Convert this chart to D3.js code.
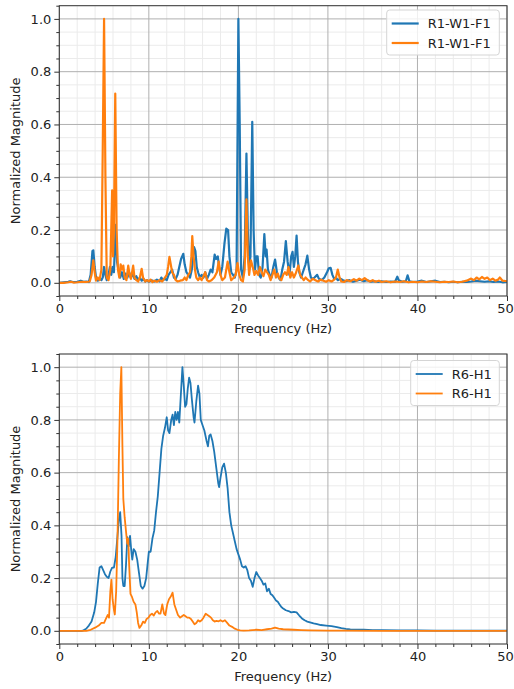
<!DOCTYPE html>
<html>
<head>
<meta charset="utf-8">
<script src="https://cdn.jsdelivr.net/npm/d3@7"></script>
<style>
  body { margin: 0; background: #fff; }
  svg { display: block; font-family: "DejaVu Sans", sans-serif; }
</style>
</head>
<body>
<svg id="chart" width="514" height="689"></svg>
<script>
// values, [frequency Hz, normalized magnitude]
var topBlue = [
  [0,0],[0.5,0.002],[1,0.004],[1.2,0.006],[1.5,0.003],[2,0.004],[2.4,0.008],[2.7,0.004],[3,0.005],[3.3,0.003],
  [3.5,0.03],[3.7,0.12],[3.8,0.123],[3.95,0.06],[4.1,0.02],[4.3,0.008],[4.5,0.015],[4.7,0.01],[4.85,0.02],[5,0.06],
  [5.15,0.03],[5.3,0.01],[5.5,0.03],[5.65,0.06],[5.8,0.03],[5.95,0.06],[6.1,0.04],[6.3,0.22],[6.45,0.08],[6.6,0.05],
  [6.8,0.02],[7,0.04],[7.2,0.015],[7.4,0.035],[7.6,0.02],[7.8,0.04],[8,0.02],[8.2,0.035],[8.4,0.015],[8.6,0.025],
  [8.8,0.01],[9,0.02],[9.2,0.008],[9.4,0.015],[9.6,0.005],[9.8,0.01],[10,0.004],[10.3,0.01],[10.6,0.005],[10.9,0.012],
  [11.2,0.006],[11.4,0.02],[11.6,0.01],[11.8,0.015],[12,0.01],[12.2,0.03],[12.4,0.04],[12.6,0.05],[12.8,0.02],[13,0.015],
  [13.2,0.03],[13.4,0.06],[13.6,0.09],[13.85,0.11],[14,0.07],[14.2,0.04],[14.4,0.03],[14.6,0.02],[14.8,0.05],[15.05,0.135],
  [15.2,0.12],[15.35,0.06],[15.5,0.04],[15.7,0.02],[15.9,0.03],[16.1,0.02],[16.3,0.04],[16.5,0.015],[16.7,0.03],[16.9,0.05],
  [17.1,0.04],[17.35,0.107],[17.5,0.09],[17.7,0.1],[17.85,0.06],[18,0.03],[18.2,0.06],[18.45,0.15],[18.65,0.205],[18.85,0.2],
  [19,0.1],[19.2,0.04],[19.4,0.03],[19.6,0.02],[19.8,0.05],[20,1.0],[20.15,0.6],[20.3,0.05],[20.5,0.02],[20.7,0.1],
  [20.9,0.49],[21.05,0.2],[21.2,0.06],[21.35,0.1],[21.55,0.61],[21.7,0.2],[21.85,0.05],[22,0.1],[22.15,0.1],[22.3,0.03],
  [22.5,0.02],[22.7,0.06],[22.9,0.185],[23.05,0.1],[23.15,0.126],[23.3,0.05],[23.5,0.03],[23.7,0.02],[23.9,0.06],[24.1,0.088],
  [24.3,0.04],[24.5,0.02],[24.7,0.01],[24.9,0.05],[25.1,0.08],[25.3,0.158],[25.5,0.08],[25.7,0.03],[25.9,0.1],[26.05,0.117],
  [26.2,0.06],[26.35,0.1],[26.5,0.179],[26.65,0.08],[26.8,0.04],[27,0.02],[27.2,0.04],[27.5,0.07],[27.7,0.103],[27.9,0.05],
  [28.1,0.02],[28.3,0.015],[28.5,0.02],[28.8,0.03],[29,0.015],[29.3,0.01],[29.6,0.02],[29.9,0.04],[30.1,0.055],[30.3,0.057],
  [30.5,0.03],[30.7,0.015],[30.9,0.02],[31.1,0.01],[31.4,0.015],[31.7,0.01],[32,0.006],[32.4,0.01],[32.8,0.004],[33.2,0.008],
  [33.6,0.012],[34,0.006],[34.4,0.01],[34.8,0.004],[35.2,0.006],[35.6,0.003],[36,0.006],[36.5,0.003],[37,0.005],[37.5,0.004],
  [37.75,0.023],[37.9,0.01],[38.3,0.004],[38.7,0.006],[38.9,0.028],[39.1,0.006],[39.5,0.003],[40,0.005],[40.5,0.008],[41,0.003],
  [41.5,0.006],[42,0.008],[42.5,0.003],[43,0.004],[43.5,0.002],[44,0.004],[44.5,0.002],[45,0.004],[45.5,0.003],[46,0.005],
  [46.5,0.008],[47,0.006],[47.5,0.004],[48,0.006],[48.5,0.003],[49,0.005],[49.5,0.002],[50,0.003]
];
var topOrange = [
  [0,0],[0.5,0],[1,0.002],[1.3,0.004],[1.6,0.001],[2,0.002],[2.5,0.004],[3,0.003],[3.4,0.005],[3.6,0.03],
  [3.8,0.085],[3.95,0.04],[4.1,0.008],[4.3,0.02],[4.5,0.01],[4.7,0.05],[4.85,0.5],[5,1.0],[5.15,0.4],[5.3,0.02],
  [5.5,0.01],[5.7,0.05],[5.9,0.35],[6,0.1],[6.1,0.2],[6.25,0.717],[6.4,0.2],[6.55,0.05],[6.7,0.02],[6.85,0.07],
  [7,0.05],[7.15,0.065],[7.3,0.02],[7.5,0.01],[7.7,0.065],[7.85,0.03],[8,0.015],[8.25,0.065],[8.4,0.02],[8.6,0.01],
  [8.8,0.005],[9,0.02],[9.2,0.053],[9.35,0.02],[9.6,0.005],[9.8,0.01],[10,0.005],[10.2,0.012],[10.4,0.003],[10.6,0.008],
  [10.9,0.004],[11.2,0.01],[11.5,0.005],[11.8,0.02],[12,0.03],[12.15,0.06],[12.3,0.098],[12.45,0.07],[12.6,0.04],[12.8,0.03],
  [13,0.01],[13.2,0.005],[13.5,0.008],[13.8,0.01],[14,0.02],[14.2,0.01],[14.4,0.03],[14.6,0.04],[14.75,0.1],[14.85,0.177],
  [15,0.1],[15.15,0.05],[15.3,0.02],[15.5,0.01],[15.7,0.02],[15.9,0.01],[16.1,0.025],[16.3,0.04],[16.5,0.01],[16.7,0.005],
  [17,0.01],[17.3,0.02],[17.6,0.04],[17.8,0.08],[18,0.03],[18.2,0.01],[18.5,0.02],[18.8,0.08],[19,0.04],[19.2,0.01],
  [19.5,0.02],[19.7,0.03],[19.9,0.075],[20.1,0.03],[20.3,0.01],[20.5,0.005],[20.7,0.05],[20.9,0.316],[21.05,0.1],[21.2,0.03],
  [21.4,0.085],[21.6,0.06],[21.8,0.03],[22,0.045],[22.2,0.03],[22.4,0.06],[22.6,0.04],[22.8,0.025],[23,0.05],[23.2,0.04],
  [23.4,0.03],[23.6,0.01],[23.8,0.03],[24,0.05],[24.2,0.02],[24.4,0.035],[24.6,0.015],[24.8,0.01],[25,0.03],[25.2,0.04],
  [25.4,0.03],[25.6,0.06],[25.8,0.02],[26,0.04],[26.2,0.02],[26.4,0.035],[26.7,0.065],[26.9,0.03],[27.1,0.02],[27.3,0.01],
  [27.5,0.02],[27.8,0.01],[28,0.005],[28.3,0.015],[28.6,0.01],[28.9,0.005],[29.2,0.012],[29.5,0.008],[29.8,0.004],[30.1,0.01],
  [30.4,0.005],[30.7,0.012],[30.9,0.02],[31.1,0.05],[31.3,0.02],[31.5,0.005],[31.8,0.003],[32.1,0.01],[32.5,0.006],[32.9,0.014],
  [33.2,0.008],[33.5,0.016],[33.8,0.01],[34.1,0.018],[34.4,0.01],[34.7,0.005],[35,0.01],[35.3,0.004],[35.7,0.008],[36,0.003],
  [36.5,0.006],[37,0.002],[37.5,0.005],[38,0.003],[38.5,0.006],[39,0.002],[39.5,0.004],[40,0.002],[40.5,0.005],[41,0.003],
  [41.5,0.006],[42,0.004],[42.5,0.002],[43,0.004],[43.5,0.003],[44,0.005],[44.5,0.002],[45,0.004],[45.5,0.008],[46,0.016],
  [46.3,0.01],[46.6,0.02],[46.9,0.013],[47.2,0.022],[47.5,0.015],[47.8,0.02],[48.1,0.01],[48.4,0.016],[48.7,0.008],[49,0.012],
  [49.2,0.02],[49.5,0.008],[50,0.006]
];
var bottomBlue = [
  [0,0],[2.5,0],[2.7,0.002],[3,0.008],[3.3,0.02],[3.6,0.035],[3.9,0.07],[4.1,0.11],[4.3,0.18],[4.5,0.24],
  [4.7,0.245],[4.9,0.23],[5.1,0.215],[5.3,0.205],[5.5,0.2],[5.7,0.225],[5.9,0.24],[6.1,0.24],[6.3,0.28],[6.5,0.36],
  [6.65,0.42],[6.8,0.45],[6.95,0.36],[7.05,0.2],[7.15,0.17],[7.3,0.17],[7.45,0.25],[7.6,0.355],[7.75,0.32],[7.9,0.36],
  [8.05,0.3],[8.15,0.27],[8.3,0.31],[8.5,0.3],[8.7,0.27],[8.9,0.22],[9.1,0.17],[9.3,0.16],[9.5,0.17],[9.7,0.2],
  [9.85,0.25],[10,0.3],[10.2,0.3],[10.4,0.35],[10.6,0.38],[10.8,0.45],[11,0.51],[11.2,0.6],[11.4,0.69],[11.6,0.74],
  [11.8,0.77],[12,0.81],[12.15,0.76],[12.3,0.75],[12.5,0.8],[12.65,0.82],[12.8,0.78],[12.95,0.83],[13.1,0.8],[13.25,0.83],
  [13.4,0.79],[13.55,0.88],[13.75,1.0],[13.9,0.93],[14.05,0.85],[14.2,0.86],[14.35,0.92],[14.5,0.96],[14.65,0.94],[14.8,0.88],
  [15,0.81],[15.1,0.79],[15.3,0.87],[15.5,0.93],[15.65,0.9],[15.8,0.8],[16,0.78],[16.2,0.76],[16.45,0.72],[16.6,0.7],
  [16.75,0.74],[16.9,0.745],[17.1,0.72],[17.3,0.68],[17.45,0.64],[17.6,0.6],[17.75,0.56],[17.85,0.545],[18,0.58],[18.2,0.62],
  [18.4,0.634],[18.6,0.6],[18.8,0.54],[19,0.45],[19.2,0.4],[19.4,0.37],[19.6,0.34],[19.8,0.31],[20,0.29],[20.2,0.27],
  [20.4,0.245],[20.6,0.24],[20.8,0.245],[21,0.23],[21.2,0.2],[21.4,0.19],[21.6,0.167],[21.8,0.2],[22,0.223],[22.2,0.21],
  [22.4,0.2],[22.6,0.19],[22.8,0.175],[23,0.18],[23.2,0.15],[23.4,0.16],[23.6,0.14],[23.8,0.135],[24,0.125],[24.2,0.115],
  [24.4,0.11],[24.6,0.1],[24.8,0.09],[25,0.085],[25.3,0.078],[25.6,0.075],[25.9,0.07],[26.2,0.072],[26.5,0.07],[26.8,0.058],
  [27.1,0.047],[27.4,0.04],[27.7,0.035],[28,0.032],[28.4,0.028],[28.8,0.025],[29.2,0.022],[29.8,0.02],[30.4,0.018],[31,0.014],
  [31.5,0.01],[32,0.007],[32.5,0.005],[33,0.004],[34,0.004],[35,0.003],[36,0.003],[38,0.002],[40,0.002],[42,0.001],
  [45,0.001],[50,0.001]
];
var bottomOrange = [
  [0,0],[3,0],[3.5,0.004],[4,0.012],[4.4,0.02],[4.7,0.03],[5,0.03],[5.2,0.045],[5.4,0.06],[5.55,0.05],
  [5.7,0.15],[5.82,0.194],[5.95,0.12],[6.1,0.08],[6.2,0.062],[6.35,0.15],[6.5,0.35],[6.65,0.65],[6.8,0.9],[6.93,1.0],
  [7.05,0.7],[7.15,0.5],[7.3,0.43],[7.5,0.36],[7.6,0.33],[7.7,0.35],[7.8,0.25],[7.95,0.14],[8.1,0.13],[8.3,0.11],
  [8.5,0.1],[8.65,0.07],[8.8,0.03],[8.95,0.011],[9.15,0.02],[9.35,0.035],[9.55,0.03],[9.75,0.045],[9.95,0.05],[10.15,0.06],
  [10.35,0.065],[10.55,0.058],[10.75,0.07],[10.95,0.075],[11.15,0.065],[11.3,0.065],[11.5,0.1],[11.7,0.065],[11.85,0.06],[12.05,0.1],
  [12.25,0.12],[12.45,0.13],[12.65,0.145],[12.85,0.1],[13.05,0.08],[13.25,0.06],[13.5,0.05],[13.7,0.055],[13.9,0.06],[14.1,0.055],
  [14.3,0.05],[14.5,0.05],[14.7,0.045],[14.9,0.035],[15.1,0.025],[15.3,0.03],[15.5,0.04],[15.7,0.035],[15.9,0.04],[16.1,0.05],
  [16.35,0.065],[16.55,0.06],[16.75,0.055],[16.95,0.05],[17.15,0.04],[17.35,0.035],[17.55,0.038],[17.8,0.036],[18,0.04],[18.25,0.035],
  [18.5,0.04],[18.75,0.03],[19,0.02],[19.3,0.015],[19.6,0.008],[19.9,0.004],[20.2,0.002],[20.6,0.001],[21.2,0.002],[22,0.004],
  [22.6,0.003],[23.2,0.006],[23.7,0.008],[24.1,0.012],[24.5,0.008],[25,0.006],[25.6,0.005],[26.2,0.004],[27,0.003],[28,0.002],
  [30,0.001],[32,0.001],[36,0],[50,0]
];
var topLabels = ["R1-W1-F1", "R1-W1-F1"];
var bottomLabels = ["R6-H1", "R6-H1"];
var xTicks = [0, 10, 20, 30, 40, 50];
var yTicks = [0.0, 0.2, 0.4, 0.6, 0.8, 1.0];

var colors = ["#1f77b4", "#ff7f0e"];
var svg = d3.select("#chart");

function drawPanel(top, bottom, series, labels, lw, legendBox) {
    var left = 59.3, right = 507;
    var x = d3.scaleLinear().domain([0, 50]).range([left, right]);
    var y = d3.scaleLinear().domain([-0.05, 1.05]).range([bottom, top]);
    var g = svg.append("g");

    // minor grid
    var xMinor = d3.range(0, 50.01, 2).filter(function(d) { return d % 10 !== 0; });
    var yMinor = d3.range(-0.05, 1.051, 0.05).filter(function(d) { return Math.abs(Math.round(d * 5) - d * 5) > 0.01; });
    g.selectAll(".xminor").data(xMinor).enter().append("line")
        .attr("x1", x).attr("x2", x).attr("y1", top).attr("y2", bottom)
        .attr("stroke", "#ebebeb").attr("stroke-width", 1);
    g.selectAll(".yminor").data(yMinor).enter().append("line")
        .attr("x1", left).attr("x2", right).attr("y1", y).attr("y2", y)
        .attr("stroke", "#ebebeb").attr("stroke-width", 1);
    // major grid
    g.selectAll(".xmajor").data(xTicks).enter().append("line")
        .attr("x1", x).attr("x2", x).attr("y1", top).attr("y2", bottom)
        .attr("stroke", "#b0b0b0").attr("stroke-width", 1);
    g.selectAll(".ymajor").data(yTicks).enter().append("line")
        .attr("x1", left).attr("x2", right).attr("y1", y).attr("y2", y)
        .attr("stroke", "#b0b0b0").attr("stroke-width", 1);

    // lines
    var line = d3.line().x(function(d) { return x(d[0]); }).y(function(d) { return y(d[1]); });
    series.forEach(function(s, i) {
        g.append("path").datum(s)
            .attr("fill", "none")
            .attr("stroke", colors[i])
            .attr("stroke-width", lw)
            .attr("stroke-linejoin", "round")
            .attr("d", line);
    });

    // spines
    g.append("rect").attr("x", left).attr("y", top).attr("width", right - left).attr("height", bottom - top)
        .attr("fill", "none").attr("stroke", "#333").attr("stroke-width", 1);

    // axes
    var xAxis = d3.axisBottom(x).tickValues(xTicks).tickSize(5).tickPadding(3).tickFormat(d3.format("d"));
    var xMinorAxis = d3.axisBottom(x).tickValues(xMinor).tickSize(3).tickFormat("");
    var yAxis = d3.axisLeft(y).tickValues(yTicks).tickSize(5).tickPadding(3).tickFormat(d3.format(".1f"));
    var yMinorAxis = d3.axisLeft(y).tickValues(yMinor).tickSize(3).tickFormat("");
    [[xAxis, "bottom"], [xMinorAxis, "bottom"], [yAxis, "left"], [yMinorAxis, "left"]].forEach(function(a) {
        var ag = g.append("g")
            .attr("transform", a[1] === "bottom" ? "translate(0," + bottom + ")" : "translate(" + left + ",0)")
            .call(a[0]);
        ag.select(".domain").remove();
        ag.selectAll("line").attr("stroke", "#333");
        ag.selectAll("text").attr("fill", "#222").style("font-size", "13px").style("font-family", "DejaVu Sans");
    });
    // keep the last x label inside the page
    g.selectAll("text").filter(function(d) { return d === 50; }).attr("dx", "-2");

    g.append("text").attr("x", (left + right) / 2).attr("y", bottom + 37)
        .attr("text-anchor", "middle").style("font-size", "13px").attr("fill", "#222")
        .text("Frequency (Hz)");
    g.append("text")
        .attr("transform", "translate(20," + ((top + bottom) / 2) + ") rotate(-90)")
        .attr("text-anchor", "middle").style("font-size", "13px").attr("fill", "#222")
        .text("Normalized Magnitude");

    // legend
    var lg = g.append("g");
    lg.append("rect").attr("x", legendBox[0]).attr("y", legendBox[1])
        .attr("width", legendBox[2]).attr("height", 45).attr("rx", 3)
        .attr("fill", "white").attr("fill-opacity", 0.8)
        .attr("stroke", "#d5d5d5").attr("stroke-width", 1);
    labels.forEach(function(l, i) {
        var ly = legendBox[1] + 13.5 + i * 19.5;
        lg.append("line").attr("x1", legendBox[0] + 5).attr("x2", legendBox[0] + 32)
            .attr("y1", ly).attr("y2", ly).attr("stroke", colors[i]).attr("stroke-width", lw);
        lg.append("text").attr("x", legendBox[0] + 41).attr("y", ly + 4.5)
            .style("font-size", "13px").attr("fill", "#222").text(l);
    });
}

drawPanel(5.7, 296, [topBlue, topOrange], topLabels, 2.2, [386.7, 10, 112.6]);
drawPanel(354, 644, [bottomBlue, bottomOrange], bottomLabels, 1.8, [410.7, 360.5, 88.6]);
</script>
</body>
</html>
